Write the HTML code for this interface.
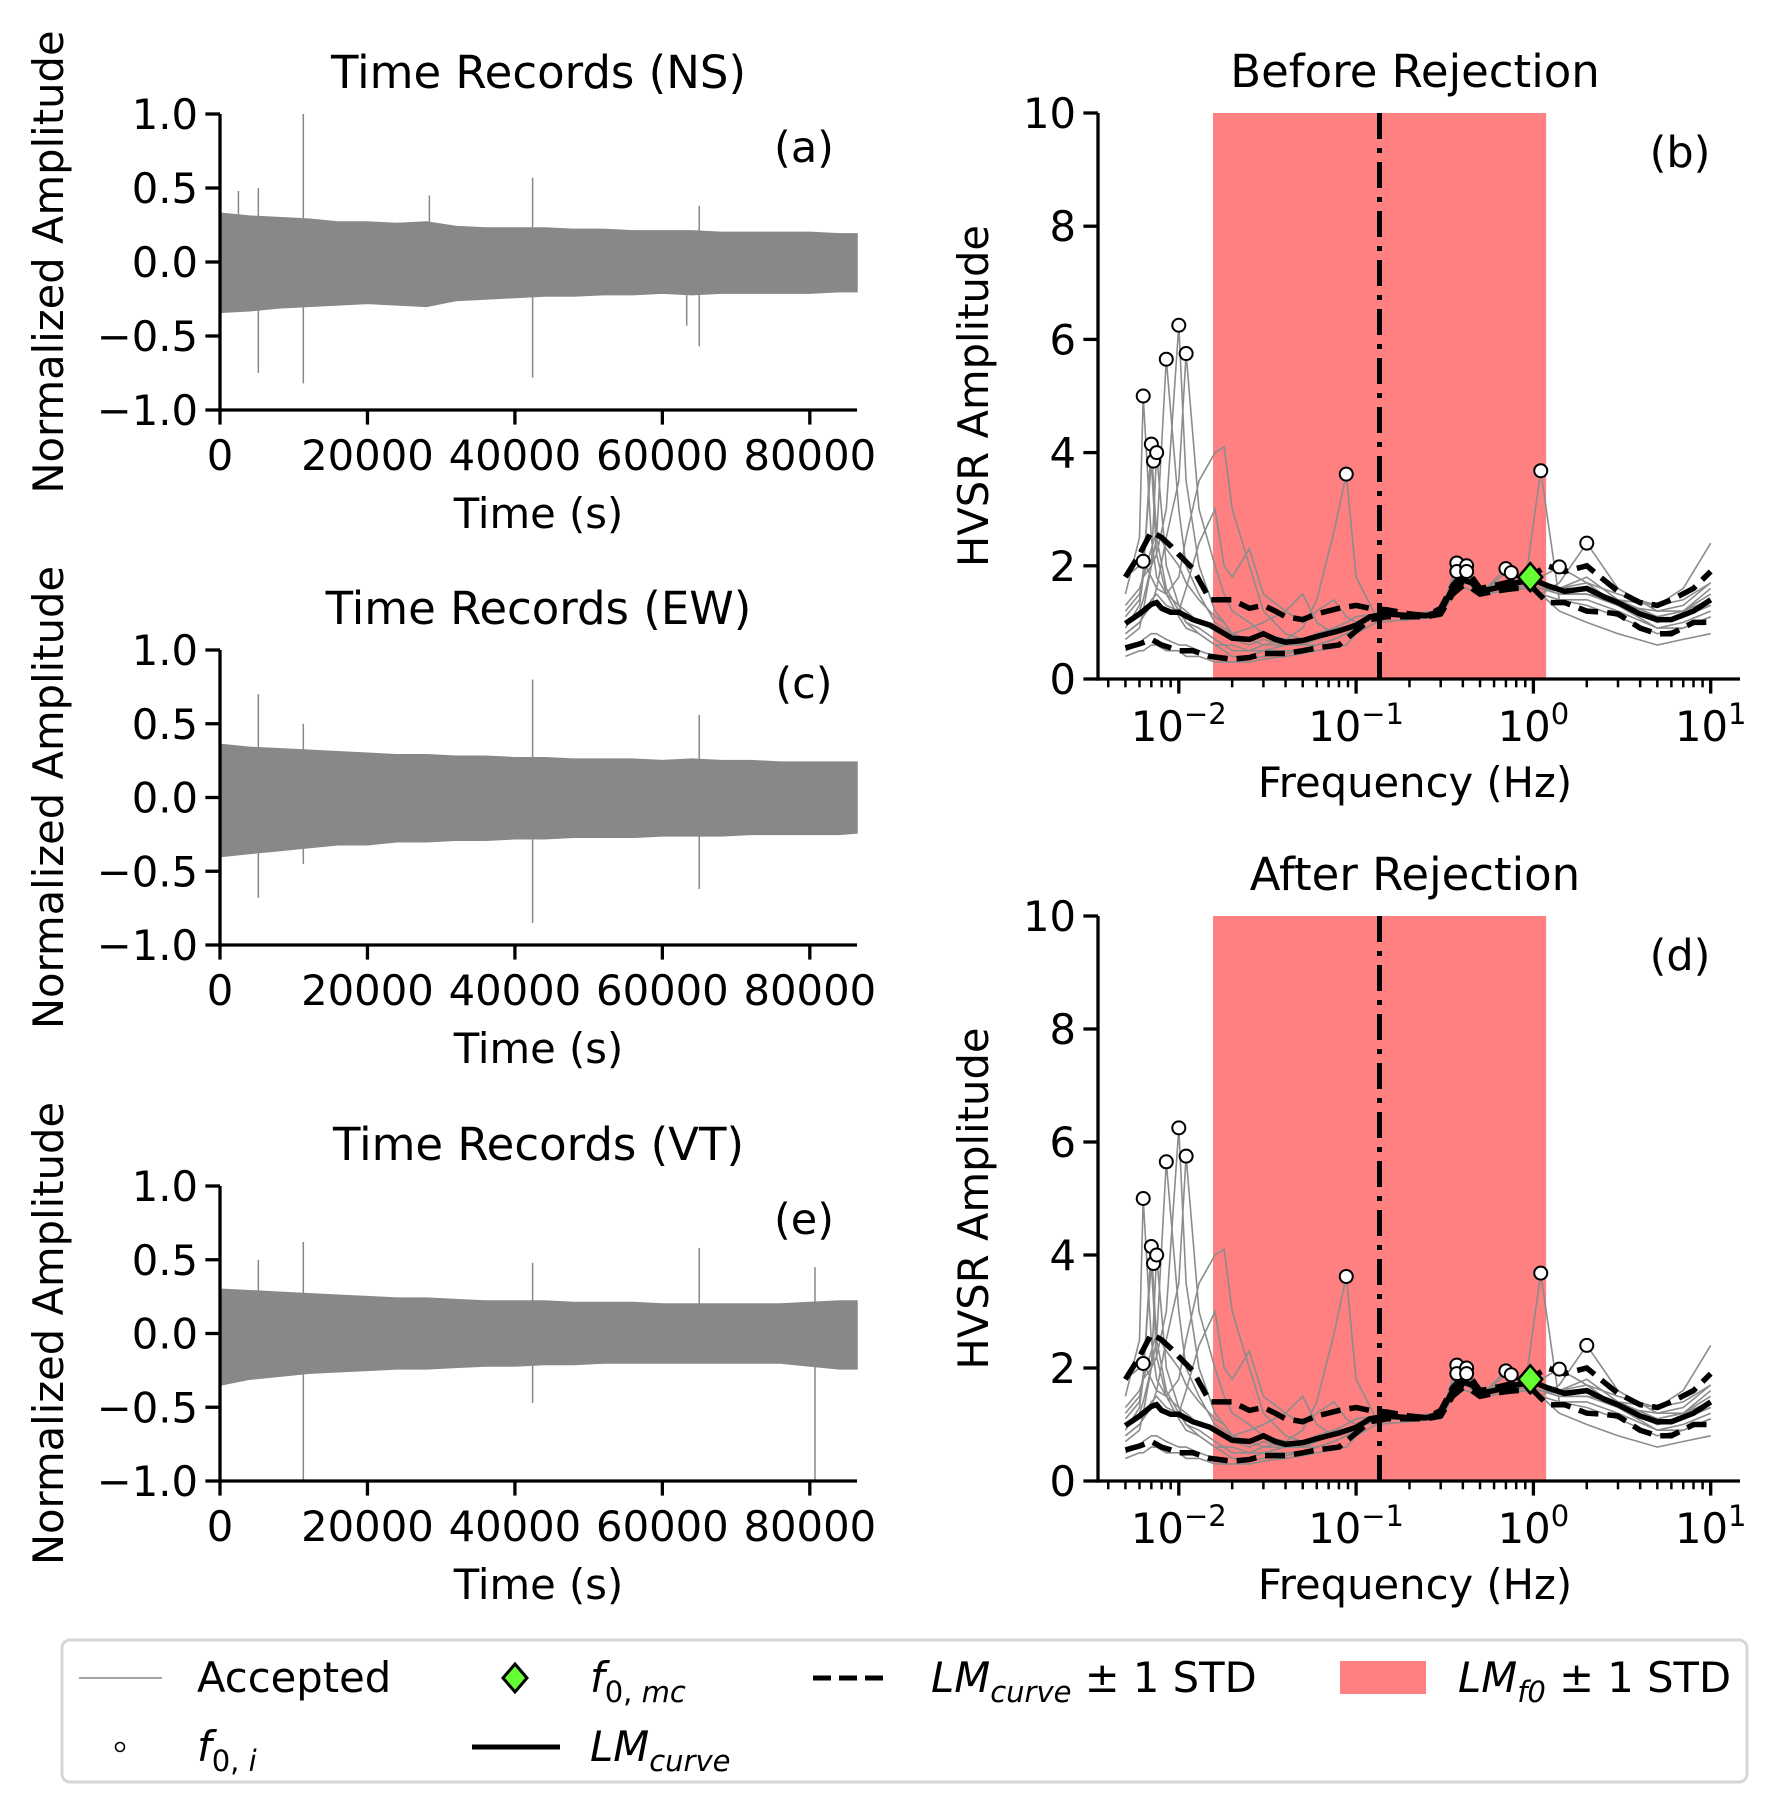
<!DOCTYPE html>
<html><head><meta charset="utf-8"><style>
html,body{margin:0;padding:0;background:#fff}
svg{display:block;font-family:"DejaVu Sans","Liberation Sans",sans-serif}
</style></head><body>
<svg id="fig" width="1777" height="1814" viewBox="0 0 1777 1814" xmlns="http://www.w3.org/2000/svg">
<g id="root"></g>
<g>
  <rect x="62" y="1640" width="1685" height="142" rx="8" fill="#fff" stroke="#d6d6d6" stroke-width="3"/>
  <g>
    <line x1="79" y1="1678" x2="162" y2="1678" stroke="#888" stroke-width="1.6"/>
    <text x="197" y="1692" font-size="41.7">Accepted</text>
  </g>
  <g>
    <circle cx="120" cy="1747" r="4.5" fill="#fff" stroke="#000" stroke-width="1.6"/>
    <text x="197" y="1761" font-size="41.7" font-style="italic">f<tspan font-size="29" dy="10" font-style="normal">0,</tspan><tspan font-size="29"> i</tspan></text>
  </g>
  <g>
    <polygon points="515,1664 527,1678 515,1692 503,1678" fill="#66ff33" stroke="#000" stroke-width="3"/>
    <text x="590" y="1692" font-size="41.7" font-style="italic">f<tspan font-size="29" dy="10" font-style="normal">0,</tspan><tspan font-size="29"> mc</tspan></text>
  </g>
  <g>
    <line x1="472" y1="1747" x2="560" y2="1747" stroke="#000" stroke-width="5"/>
    <text x="590" y="1761" font-size="41.7" font-style="italic">LM<tspan font-size="29" dy="10">curve</tspan></text>
  </g>
  <g>
    <line x1="813" y1="1678" x2="891" y2="1678" stroke="#000" stroke-width="5" stroke-dasharray="18,8"/>
    <text x="931" y="1692" font-size="41.7"><tspan font-style="italic">LM</tspan><tspan font-size="29" dy="10" font-style="italic">curve</tspan><tspan dy="-10"> ± 1 STD</tspan></text>
  </g>
  <g>
    <rect x="1340" y="1661" width="86" height="33" fill="#ff8080"/>
    <text x="1458" y="1692" font-size="41.7"><tspan font-style="italic">LM</tspan><tspan font-size="29" dy="10" font-style="italic">f0</tspan><tspan dy="-10"> ± 1 STD</tspan></text>
  </g>
</g>
</svg>
<script>
// ---------- Time record data (envelopes sampled every 4000 s) ----------
const envT = [0,4000,8000,12000,16000,20000,24000,28000,32000,36000,40000,44000,48000,52000,56000,60000,64000,68000,72000,76000,80000,84000,86400];
const nsUp = [0.33,0.31,0.30,0.29,0.27,0.27,0.26,0.27,0.24,0.23,0.23,0.23,0.22,0.22,0.21,0.21,0.21,0.20,0.20,0.20,0.20,0.19,0.19];
const nsDn = [-0.34,-0.33,-0.31,-0.30,-0.29,-0.28,-0.29,-0.30,-0.26,-0.25,-0.24,-0.23,-0.23,-0.22,-0.22,-0.21,-0.22,-0.21,-0.21,-0.21,-0.21,-0.20,-0.20];
const ewUp = [0.36,0.34,0.33,0.32,0.31,0.30,0.29,0.29,0.28,0.28,0.27,0.27,0.26,0.26,0.26,0.25,0.26,0.25,0.25,0.24,0.24,0.24,0.24];
const ewDn = [-0.40,-0.38,-0.36,-0.34,-0.32,-0.32,-0.30,-0.30,-0.29,-0.29,-0.28,-0.28,-0.27,-0.27,-0.27,-0.26,-0.26,-0.26,-0.25,-0.25,-0.25,-0.25,-0.24];
const vtUp = [0.30,0.29,0.28,0.27,0.26,0.25,0.24,0.24,0.23,0.22,0.22,0.22,0.21,0.21,0.21,0.20,0.20,0.20,0.20,0.20,0.21,0.22,0.22];
const vtDn = [-0.35,-0.31,-0.29,-0.27,-0.26,-0.25,-0.24,-0.24,-0.23,-0.22,-0.22,-0.21,-0.21,-0.20,-0.20,-0.20,-0.20,-0.20,-0.20,-0.20,-0.22,-0.24,-0.24];
const nsSpikeT = [2500,5200,11300,28400,42400,63300,65000];
const nsSpikeUp = [0.48,0.50,1.00,0.45,0.57,0.20,0.38];
const nsSpikeDn = [-0.30,-0.75,-0.82,-0.30,-0.78,-0.43,-0.57];
const ewSpikeT = [5200,11300,42400,65000];
const ewSpikeUp = [0.70,0.50,0.80,0.56];
const ewSpikeDn = [-0.68,-0.45,-0.85,-0.62];
const vtSpikeT = [5200,11300,42400,65000,80700];
const vtSpikeUp = [0.50,0.62,0.48,0.58,0.45];
const vtSpikeDn = [-0.30,-1.00,-0.47,-0.20,-1.00];
const timeTicks = [0,20000,40000,60000,80000];
const ampTicks = [1.0,0.5,0.0,-0.5,-1.0];

// ---------- HVSR data ----------
const F = [0.005,0.006,0.0063,0.007,0.0075,0.0085,0.01,0.011,0.013,0.016,0.018,0.02,0.025,0.03,0.04,0.05,0.06,0.075,0.088,0.1,0.13,0.2,0.3,0.37,0.42,0.5,0.7,0.9,1.1,1.4,2,3,5,7,10];
const c1 = [1.2,1.5,1.8,2.0,2.2,3.0,6.25,3.5,2.0,1.2,1.0,0.8,0.7,0.6,0.6,0.7,0.8,0.9,0.9,1.0,1.1,1.1,1.2,1.8,1.7,1.6,1.7,1.7,1.6,1.5,1.5,1.3,1.0,1.1,1.3];
const c2 = [1.5,2.5,5.0,2.5,1.8,1.5,1.3,1.2,1.0,0.9,0.8,0.7,0.6,0.7,0.6,0.6,0.7,0.8,0.9,1.0,1.15,1.1,1.2,1.9,1.8,1.55,1.6,1.7,1.6,1.55,1.6,1.4,1.1,1.2,1.5];
const c3 = [1.0,1.2,1.4,2.0,2.5,5.65,3.0,2.0,1.5,1.0,0.9,0.8,0.7,0.8,0.7,0.6,0.7,0.8,0.9,1.0,1.1,1.15,1.2,1.7,1.75,1.5,1.65,1.7,1.7,1.6,1.7,1.3,0.9,1.0,1.2];
const c4 = [0.8,1.0,1.1,1.3,1.6,2.5,3.5,5.75,3.0,2.0,1.5,1.2,1.0,0.8,0.7,0.7,0.8,0.8,0.9,1.0,1.1,1.1,1.2,1.65,1.7,1.6,1.6,1.7,1.6,1.5,1.5,1.4,1.1,1.2,1.6];
const c5 = [0.9,1.3,1.8,4.15,2.5,1.6,1.2,1.0,0.9,0.7,0.6,0.6,0.5,0.5,0.6,0.6,0.6,0.7,0.8,0.9,1.1,1.1,1.15,2.05,1.7,1.5,1.95,1.7,1.7,1.6,1.6,1.3,1.0,1.1,1.3];
const c6 = [0.7,0.9,1.2,2.0,4.0,2.0,1.3,1.0,0.8,0.6,0.6,0.5,0.5,0.6,0.7,0.9,1.4,2.6,3.62,1.8,1.1,1.1,1.2,1.7,2.0,1.6,1.6,1.65,1.5,1.4,1.4,1.2,0.9,0.9,1.1];
const c7 = [1.1,1.4,1.9,3.85,2.2,1.5,1.1,0.9,0.8,0.6,0.5,0.4,0.4,0.5,0.5,0.5,0.6,0.7,0.8,0.9,1.1,1.1,1.15,1.6,1.6,1.5,1.88,1.7,3.68,1.4,1.3,1.1,0.8,0.9,1.1];
const c8 = [1.8,2.0,2.08,1.8,1.6,1.5,1.8,2.5,3.5,4.0,4.1,3.0,2.0,1.2,0.8,0.7,0.8,0.9,1.0,1.1,1.15,1.15,1.2,1.75,1.9,1.6,1.6,1.6,1.5,1.7,2.4,1.6,1.2,1.3,1.7];
const c9 = [0.5,0.6,0.7,0.8,0.8,0.7,0.6,0.6,0.5,0.4,0.3,0.3,0.35,0.4,0.45,0.5,0.6,0.7,0.8,0.9,1.1,1.1,1.15,1.7,1.8,1.55,1.7,1.75,1.8,1.98,1.7,1.5,1.3,1.4,1.7];
const c10 = [0.4,0.5,0.5,0.6,0.6,0.5,0.5,0.4,0.4,0.3,0.3,0.3,0.3,0.35,0.4,0.45,0.5,0.55,0.6,0.8,1.0,1.05,1.1,1.6,1.7,1.5,1.55,1.6,1.5,1.2,1.0,0.8,0.6,0.7,0.8];
const c11 = [0.8,1.0,1.1,1.4,1.5,1.3,1.2,1.6,2.4,3.0,2.0,1.8,2.3,1.5,1.2,1.0,1.2,1.4,1.1,1.0,1.1,1.1,1.2,1.8,1.7,1.55,1.6,1.7,1.6,1.6,1.8,1.4,1.3,1.6,2.4];
const c12 = [1.3,1.6,1.8,2.3,2.6,2.3,2.0,1.7,1.4,1.1,1.0,0.8,0.9,1.0,1.2,1.5,1.0,0.8,0.9,1.0,1.1,1.1,1.2,1.85,1.75,1.55,1.6,1.7,1.7,1.55,1.6,1.3,1.2,1.2,1.4];
const curves = [c1,c2,c3,c4,c5,c6,c7,c8,c9,c10,c11,c12];
const LF = [0.005,0.006,0.007,0.0075,0.008,0.009,0.01,0.012,0.015,0.02,0.025,0.03,0.035,0.04,0.05,0.06,0.08,0.1,0.12,0.15,0.2,0.25,0.3,0.35,0.4,0.45,0.5,0.6,0.7,0.8,1.0,1.2,1.5,2,2.5,3,4,5,6,8,10];
const lmMean = [0.98,1.15,1.32,1.35,1.25,1.18,1.18,1.05,0.95,0.72,0.70,0.80,0.70,0.65,0.68,0.75,0.85,0.95,1.10,1.15,1.12,1.12,1.20,1.60,1.75,1.70,1.55,1.60,1.65,1.70,1.75,1.65,1.55,1.60,1.45,1.35,1.15,1.05,1.05,1.20,1.40];
const lmUpper = [1.80,2.20,2.60,2.55,2.50,2.35,2.20,1.95,1.40,1.40,1.25,1.30,1.20,1.10,1.05,1.15,1.25,1.30,1.25,1.22,1.15,1.12,1.25,1.65,1.85,1.80,1.60,1.65,1.70,1.75,1.85,2.00,1.90,2.00,1.75,1.55,1.35,1.30,1.40,1.60,1.90];
const lmLower = [0.55,0.62,0.70,0.65,0.60,0.55,0.50,0.50,0.40,0.35,0.38,0.45,0.45,0.45,0.50,0.55,0.60,0.85,1.05,1.10,1.10,1.10,1.15,1.50,1.65,1.60,1.50,1.55,1.58,1.60,1.60,1.35,1.35,1.20,1.18,1.15,0.90,0.80,0.80,1.00,1.00];
const peakF = [0.0063,0.007,0.0072,0.0075,0.0085,0.01,0.011,0.0063,0.088,0.37,0.37,0.42,0.42,0.7,0.75,1.1,1.4,2.0];
const peakA = [5.0,4.15,3.85,4.0,5.65,6.25,5.75,2.08,3.62,2.05,1.9,2.0,1.9,1.95,1.88,3.68,1.98,2.4];
const f0mc = [0.96]; const f0mcA = [1.8];
const lmF0Lo = [0.0156], lmF0Hi = [1.18], lmF0 = [0.1355];
const hvTicks = [0,2,4,6,8,10];
const decades = [-2,-1,0,1];

const NS='http://www.w3.org/2000/svg';
const root=document.getElementById('root');
function el(tag,attrs,parent){const e=document.createElementNS(NS,tag);for(const k in attrs)e.setAttribute(k,attrs[k]);(parent||root).appendChild(e);return e;}
function txt(s,attrs,parent){const e=el('text',attrs,parent);e.textContent=s;return e;}

// ---------- time panels ----------
function timePanel(name,top,bot,up,dn,sT,sU,sD,title,letter){
  const g=el('g',{});
  
  
  const L=220,R=857;
  const xs=t=>L+t/86400*(R-L);
  const ys=v=>top+(1-v)/2*(bot-top);
  let d='';
  envT.forEach((t,i)=>{d+=(i?'L':'M')+xs(t).toFixed(1)+','+ys(up[i]).toFixed(1);});
  for(let i=envT.length-1;i>=0;i--) d+='L'+xs(envT[i]).toFixed(1)+','+ys(dn[i]).toFixed(1);
  const env=el('path',{d:d+'Z',fill:'#888',stroke:'#888','stroke-width':1.5},g);
  
  
  sT.forEach((t,i)=>{
    const s=el('line',{x1:xs(t),x2:xs(t),y1:ys(sU[i]),y2:ys(sD[i]),stroke:'#888','stroke-width':1.5},g);
    
    
  });
  el('line',{x1:L,y1:top,x2:L,y2:bot+1.6,stroke:'#000','stroke-width':3.3},g);
  el('line',{x1:L-1.6,y1:bot,x2:R,y2:bot,stroke:'#000','stroke-width':3.3},g);
  ampTicks.forEach(v=>{
    el('line',{x1:L-14.6,x2:L,y1:ys(v),y2:ys(v),stroke:'#000','stroke-width':3.3},g);
    const t=txt((v<0?'\u2212':'')+Math.abs(v).toFixed(1),{x:L-22,y:ys(v)+15,'font-size':41.7,'text-anchor':'end'},g);
    
    
  });
  timeTicks.forEach(v=>{
    el('line',{x1:xs(v),x2:xs(v),y1:bot,y2:bot+14.6,stroke:'#000','stroke-width':3.3},g);
    const t=txt(String(v),{x:xs(v),y:bot+60,'font-size':41.7,'text-anchor':'middle'},g);
    
    
  });
  const tt=txt(title,{x:(L+R)/2,y:top-26,'font-size':45,'text-anchor':'middle'},g);
  
  
  const lt=txt(letter,{x:804,y:top+48,'font-size':43,'text-anchor':'middle'},g);
  
  
  const xl=txt('Time (s)',{x:(L+R)/2,y:bot+118,'font-size':41.7,'text-anchor':'middle'},g);
  
  
  const cy=(top+bot)/2;
  const yl=txt('Normalized Amplitude',{x:63,y:cy,'font-size':41.7,'text-anchor':'middle',transform:'rotate(-90 63 '+cy+')'},g);
  
  
}
timePanel('time-records-ns',114,410,nsUp,nsDn,nsSpikeT,nsSpikeUp,nsSpikeDn,'Time Records (NS)','(a)');
timePanel('time-records-ew',650,945,ewUp,ewDn,ewSpikeT,ewSpikeUp,ewSpikeDn,'Time Records (EW)','(c)');
timePanel('time-records-vt',1186,1481,vtUp,vtDn,vtSpikeT,vtSpikeUp,vtSpikeDn,'Time Records (VT)','(e)');

// ---------- HVSR panels ----------
function hvsrPanel(name,top,bot,title,letter){
  const g=el('g',{});
  
  
  const L=1098,R=1740,x0=1178.8,dec=177.3;
  const xs=f=>x0+(Math.log10(f)+2)*dec;
  const ys=v=>bot-v/10*(bot-top);
  const band=el('rect',{x:xs(lmF0Lo[0]),y:top,width:xs(lmF0Hi[0])-xs(lmF0Lo[0]),height:bot-top,fill:'#ff8080'},g);
  
  
  const path=(X,Y)=>X.map((f,i)=>(i?'L':'M')+xs(f).toFixed(1)+','+ys(Y[i]).toFixed(1)).join('');
  curves.forEach(c=>{
    const p=el('path',{d:path(F,c),fill:'none',stroke:'#8c8c8c','stroke-width':1.6},g);
    
    
  });
  const vl=el('line',{x1:xs(lmF0[0]),x2:xs(lmF0[0]),y1:top,y2:bot,stroke:'#000','stroke-width':5,'stroke-dasharray':'26,9,5,9'},g);
  
  
  const mu=el('path',{d:path(LF,lmMean),fill:'none',stroke:'#000','stroke-width':5.5},g);
  
  
  [lmUpper,lmLower].forEach(a=>{
    const p=el('path',{d:path(LF,a),fill:'none',stroke:'#000','stroke-width':5.5,'stroke-dasharray':'20,9'},g);
    
    
  });
  peakF.forEach((f,i)=>{
    const c=el('circle',{cx:xs(f),cy:ys(peakA[i]),r:6.5,fill:'#fff',stroke:'#000','stroke-width':2},g);
    
    
  });
  const dx=xs(f0mc[0]),dy=ys(f0mcA[0]);
  const dm=el('polygon',{points:`${dx},${dy-14} ${dx+12},${dy} ${dx},${dy+14} ${dx-12},${dy}`,fill:'#66ff33',stroke:'#000','stroke-width':2.5},g);
  
  
  el('line',{x1:L,y1:top,x2:L,y2:bot+1.6,stroke:'#000','stroke-width':3.3},g);
  el('line',{x1:L-1.6,y1:bot,x2:R,y2:bot,stroke:'#000','stroke-width':3.3},g);
  hvTicks.forEach(v=>{
    el('line',{x1:L-14.6,x2:L,y1:ys(v),y2:ys(v),stroke:'#000','stroke-width':3.3},g);
    const t=txt(String(v),{x:L-22,y:ys(v)+15,'font-size':41.7,'text-anchor':'end'},g);
    
    
  });
  for(let d=-3;d<=1;d++) for(let m=2;m<=9;m++){
    const f=m*Math.pow(10,d); const x=xs(f);
    if(x<L||x>R) continue;
    el('line',{x1:x,x2:x,y1:bot,y2:bot+8.3,stroke:'#000','stroke-width':2.5},g);
  }
  decades.forEach(d=>{
    const x=xs(Math.pow(10,d));
    el('line',{x1:x,x2:x,y1:bot,y2:bot+14.6,stroke:'#000','stroke-width':3.3},g);
    const t=el('text',{x:x,y:bot+62,'font-size':41.7,'text-anchor':'middle'},g);
    
    
    const a=el('tspan',{},t); a.textContent='10';
    const b=el('tspan',{dy:-17,'font-size':29},t); b.textContent=(d<0?'\u2212':'')+Math.abs(d);
  });
  const tt=txt(title,{x:1415,y:top-26,'font-size':45,'text-anchor':'middle'},g);
  
  
  const lt=txt(letter,{x:1680,y:top+54,'font-size':43,'text-anchor':'middle'},g);
  
  
  const xl=txt('Frequency (Hz)',{x:1415,y:bot+118,'font-size':41.7,'text-anchor':'middle'},g);
  
  
  const cy=(top+bot)/2;
  const yl=txt('HVSR Amplitude',{x:988,y:cy,'font-size':41.7,'text-anchor':'middle',transform:'rotate(-90 988 '+cy+')'},g);
  
  
}
hvsrPanel('hvsr-before-rejection',113,679,'Before Rejection','(b)');
hvsrPanel('hvsr-after-rejection',916,1481,'After Rejection','(d)');
</script>
</body></html>
